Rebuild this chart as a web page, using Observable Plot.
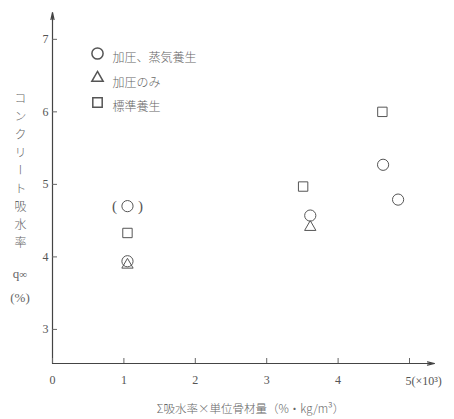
<!DOCTYPE html>
<html><head><meta charset="utf-8">
<script src="https://cdn.jsdelivr.net/npm/d3@7"></script>
<script src="https://cdn.jsdelivr.net/npm/@observablehq/plot@0.6"></script>
<style>
body{margin:0;background:#fff;}
#wrap{position:relative;width:454px;height:419px;}
#ylab{position:absolute;left:12px;top:92px;writing-mode:vertical-rl;text-orientation:upright;font-family:"Noto Sans CJK JP";font-size:12px;letter-spacing:6px;color:#666;font-weight:300;}
#ysub{position:absolute;left:5px;top:262px;width:30px;text-align:center;font-family:"Liberation Serif";font-size:13px;color:#666;line-height:24px;}
</style></head>
<body><div id="wrap"><div id="ylab">コンクリート吸水率</div><div id="ysub">q<span style="font-size:11px">∞</span><br>(%)</div></div>
<script>
const seriesNames = ["加圧、蒸気養生", "加圧のみ", "標準養生"];
const seriesSymbols = ["circle", "triangle", "square"];
// points: x (×10^3 %·kg/m³), y (%)
const circleX = [1.05, 1.05, 3.61, 4.63, 4.84];
const circleY = [4.70, 3.94, 4.57, 5.27, 4.79];
const triangleX = [1.05, 3.61];
const triangleY = [3.89, 4.41];
const squareX = [1.05, 3.51, 4.62];
const squareY = [4.33, 4.97, 6.00];
const parenIndex = [0]; // circle shown in parentheses
const xTicks = [0, 1, 2, 3, 4];
const xLastTick = 5;
const xLastLabel = "5(×10³)";
const yTicks = [3, 4, 5, 6, 7];
const xDomain = [0, 5.35];
const yDomain = [2.53, 7.37];
const xLabel = "Σ吸水率×単位骨材量（%・kg/m³）";

const pts = [
  ...circleX.map((x, i) => ({x, y: circleY[i], s: "circle"})),
  ...triangleX.map((x, i) => ({x, y: triangleY[i], s: "triangle"})),
  ...squareX.map((x, i) => ({x, y: squareY[i], s: "square"}))
];
const paren = parenIndex.map(i => ({x: circleX[i], y: circleY[i]}));
const legend = seriesNames.map((n, i) => ({n, s: seriesSymbols[i], i}));
const ink = "#555";
const serif = "Liberation Serif";
const rOf = s => s === "triangle" ? 4.2 : s === "square" ? 5.3 : 5.6;

const chart = Plot.plot({
  width: 454, height: 419,
  marginLeft: 52, marginRight: 20, marginTop: 12, marginBottom: 56,
  x: {domain: xDomain},
  y: {domain: yDomain},
  r: {type: "identity"},
  style: {fontFamily: serif, fontSize: "12px", color: ink, background: "white"},
  marks: [
    Plot.arrow([{x1: xDomain[0], y1: yDomain[0], x2: xDomain[0], y2: yDomain[1]}], {x1: "x1", y1: "y1", x2: "x2", y2: "y2", stroke: "#444", strokeWidth: 1.2, headLength: 9, headAngle: 25}),
    Plot.arrow([{x1: xDomain[0], y1: yDomain[0], x2: xDomain[1], y2: yDomain[0]}], {x1: "x1", y1: "y1", x2: "x2", y2: "y2", stroke: "#444", strokeWidth: 1.2, headLength: 9, headAngle: 25}),
    Plot.axisX({ticks: xTicks.concat([xLastTick]), tickSize: -5, tickFormat: () => "", stroke: "#666"}),
    Plot.axisX({ticks: xTicks, tickSize: 0, tickPadding: 12, tickFormat: d3.format("d"), fill: ink, fontSize: 12, fontFamily: serif}),
    Plot.text([xLastTick], {x: d => d, frameAnchor: "bottom", text: () => xLastLabel, textAnchor: "start", dx: -4, dy: 21, fill: ink, fontSize: 12, fontFamily: serif}),
    Plot.axisY({ticks: yTicks, tickSize: -5, tickPadding: 9, tickFormat: d3.format("d"), fill: ink, stroke: "#666", fontSize: 12, fontFamily: serif}),
    Plot.dot(pts, {x: "x", y: "y", symbol: "s", r: d => rOf(d.s), stroke: ink, fill: "none", strokeWidth: 1}),
    Plot.text(paren, {x: "x", y: "y", text: () => "(", dx: -13, fill: ink, fontSize: 15, fontFamily: serif}),
    Plot.text(paren, {x: "x", y: "y", text: () => ")", dx: 13, fill: ink, fontSize: 15, fontFamily: serif}),
    Plot.dot(legend, {frameAnchor: "top-left", symbol: "s", r: d => rOf(d.s), stroke: ink, fill: "none",
      render: (index, scales, values, dims, ctx, next) => { const g = next(index, scales, values, dims, ctx); d3.select(g).selectAll("path").attr("transform", (d, j) => `translate(${dims.marginLeft + 45},${dims.marginTop + 41 + 24.5 * index[j]})`); return g; }}),
    Plot.text(legend, {frameAnchor: "top-left", text: "n", textAnchor: "start", fontFamily: "Noto Sans CJK JP", fontWeight: 300, fontSize: 12, fill: "#666",
      render: (index, scales, values, dims, ctx, next) => { const g = next(index, scales, values, dims, ctx); d3.select(g).selectAll("text").attr("transform", (d, j) => `translate(${dims.marginLeft + 60},${dims.marginTop + 41 + 24.5 * index[j]})`); return g; }}),
    Plot.text([xLabel], {frameAnchor: "bottom", text: d => d, dx: 7, dy: 49, fontFamily: "Noto Sans CJK JP", fontWeight: 300, fontSize: 11.5, fill: "#666"})
  ]
});
document.getElementById("wrap").prepend(chart);
chart.style.position = "absolute"; chart.style.left = "0"; chart.style.top = "0";
</script>
</body></html>
